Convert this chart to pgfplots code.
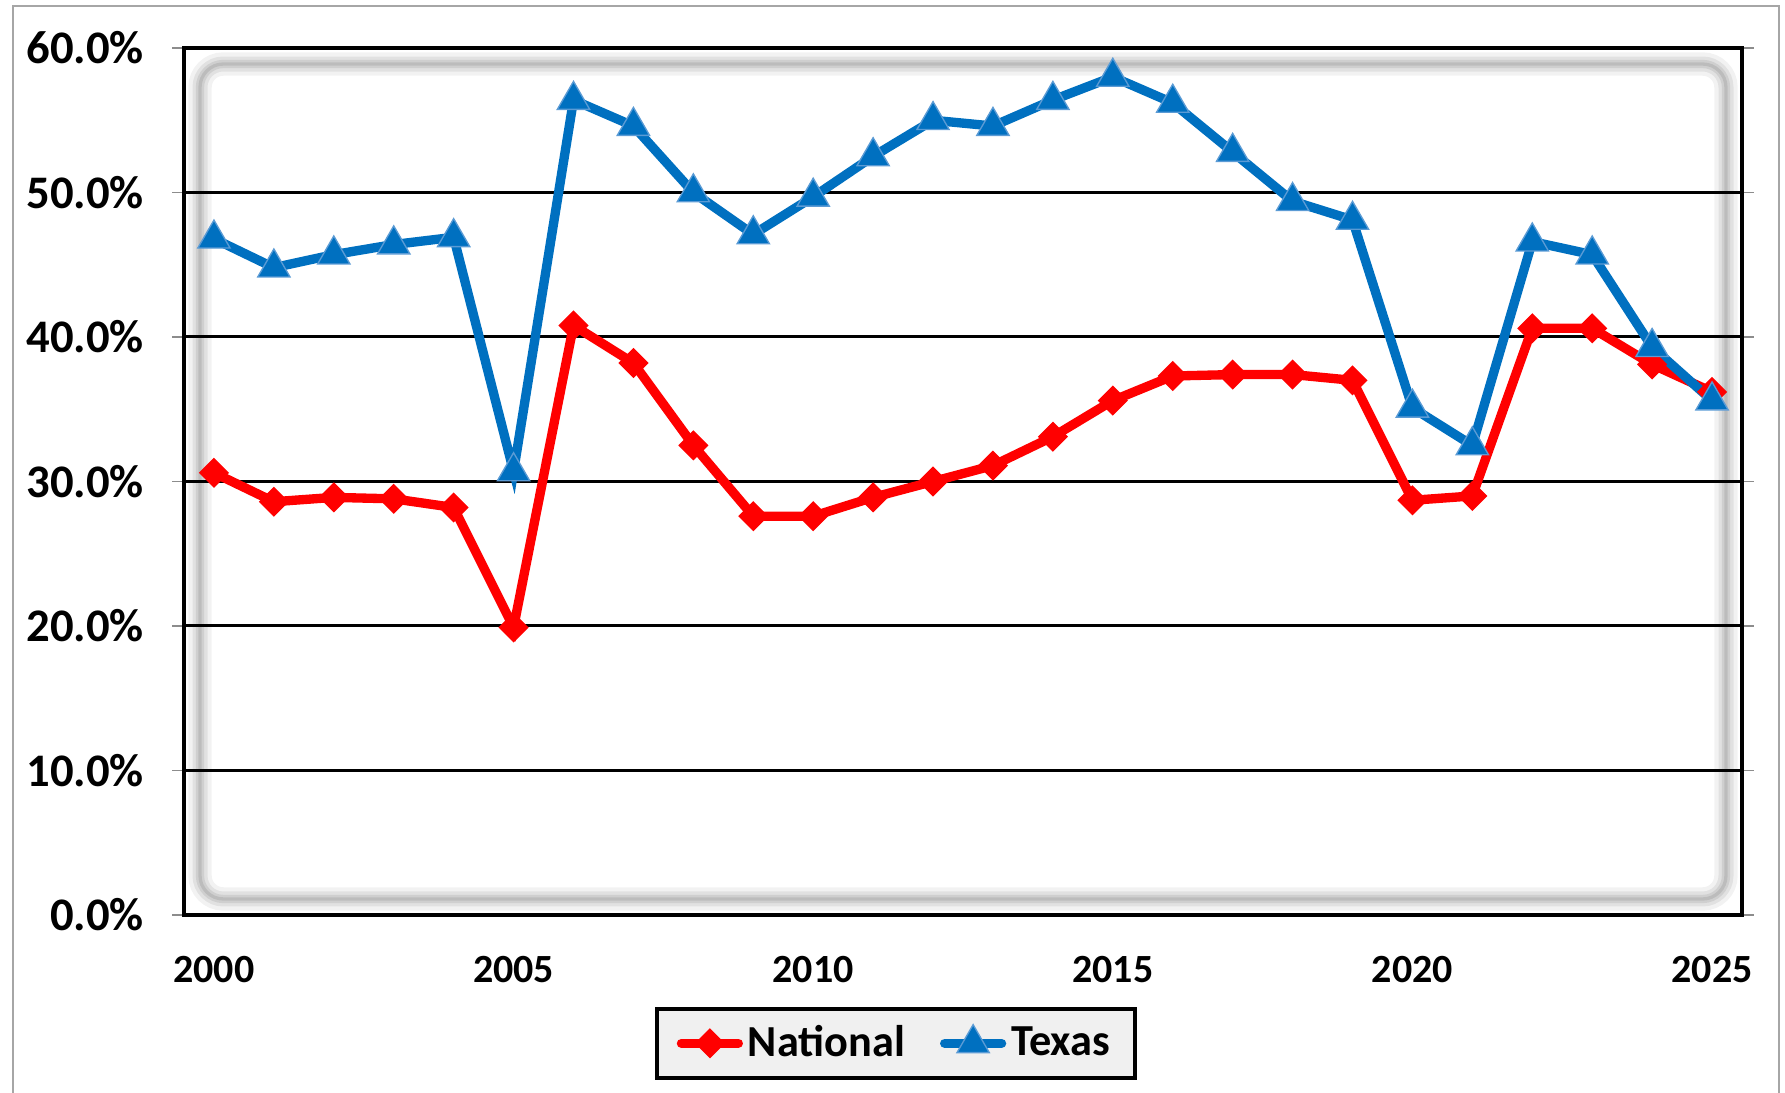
\documentclass[border=0pt]{standalone}
\usepackage{fontspec}
\setmainfont{Carlito}
\usepackage{pgfplots}
\pgfplotsset{compat=1.18}
\definecolor{tred}{HTML}{FF0000}
\definecolor{tblue}{HTML}{0070C0}
\definecolor{tedge}{HTML}{5B9BD5}
\definecolor{lgfill}{HTML}{F0F0F0}
\begin{document}
\begin{tikzpicture}
\useasboundingbox (0pt,0pt) rectangle (535.5pt,327.9pt);
\draw[black!35, line width=0.5pt] (3.8pt,-5pt) -- (3.8pt,326.1pt) -- (533.7pt,326.1pt) -- (533.7pt,-5pt);
\begin{axis}[
  at={(55.2pt,53.4pt)}, anchor=south west, scale only axis,
  width=467.4pt, height=260.1pt,
  xmin=1999.5, xmax=2025.5, ymin=0, ymax=60,
  xtick={2000,2005,...,2025},
  minor xtick={1999.5,2000.5,...,2025.5},
  xtick style={draw=none},
  minor tick style={black!45, line width=0.4pt},
  minor tick length=3.6pt,
  ytick={0,10,...,60},
  ytick style={black!45, line width=0.4pt},
  major tick length=3.5pt,
  tick align=outside,
  axis line style={black, line width=1.1pt},
  ymajorgrids, grid style={black, line width=0.9pt},
  /pgf/number format/assume math mode=true,
  xticklabel style={font=\bfseries\fontsize{12}{14}\selectfont, /pgf/number format/1000 sep={}, yshift=-5.5pt},
  yticklabel style={font=\bfseries\fontsize{14}{16}\selectfont, xshift=-5pt},
  yticklabel={\pgfmathprintnumber[fixed,fixed zerofill,precision=1]{\tick}\%},
  legend style={at={(0.457,-0.148)}, anchor=center, legend columns=2,
    fill=lgfill, draw=black, line width=1.2pt, inner ysep=3.5pt, inner xsep=6pt,
    font=\bfseries\fontsize{13.3}{15}\selectfont,
    nodes={inner sep=1.5pt},
    /tikz/every even column/.append style={column sep=9pt}},
]
\draw[black, opacity=0.05, line width=7pt, rounded corners=7pt] ([shift={(4.8pt,4.8pt)}]rel axis cs:0,0) rectangle ([shift={(-4.8pt,-4.8pt)}]rel axis cs:1,1);
\draw[black, opacity=0.07, line width=4.5pt, rounded corners=7pt] ([shift={(4.8pt,4.8pt)}]rel axis cs:0,0) rectangle ([shift={(-4.8pt,-4.8pt)}]rel axis cs:1,1);
\draw[black, opacity=0.08, line width=2.5pt, rounded corners=7pt] ([shift={(4.8pt,4.8pt)}]rel axis cs:0,0) rectangle ([shift={(-4.8pt,-4.8pt)}]rel axis cs:1,1);
\draw[black, opacity=0.09, line width=1pt, rounded corners=7pt] ([shift={(4.8pt,4.8pt)}]rel axis cs:0,0) rectangle ([shift={(-4.8pt,-4.8pt)}]rel axis cs:1,1);
\addplot[tred, line width=2.8pt, line cap=round, mark=square*, mark size=3pt,
  mark options={solid, rotate=45, fill=tred, draw=tred, line width=0.4pt}]
  coordinates {
  (2000,30.6) (2001,28.6) (2002,28.9) (2003,28.8) (2004,28.2)
  (2005,19.9) (2006,40.8) (2007,38.2) (2008,32.5) (2009,27.6)
  (2010,27.6) (2011,28.9) (2012,30.0) (2013,31.1) (2014,33.1)
  (2015,35.6) (2016,37.3) (2017,37.4) (2018,37.4) (2019,37.0)
  (2020,28.7) (2021,29.0) (2022,40.6) (2023,40.6) (2024,38.1)
  (2025,36.2)};
\addlegendentry{National}
\addplot[tblue, line width=2.8pt, line cap=round, mark=triangle*, mark size=5.6pt,
  mark options={solid, fill=tblue, draw=tedge, line width=0.4pt}]
  coordinates {
  (2000,46.8) (2001,44.8) (2002,45.7) (2003,46.4) (2004,46.9)
  (2005,30.7) (2006,56.4) (2007,54.6) (2008,50.0) (2009,47.1)
  (2010,49.7) (2011,52.5) (2012,55.0) (2013,54.6) (2014,56.4)
  (2015,58.0) (2016,56.2) (2017,52.8) (2018,49.4) (2019,48.1)
  (2020,35.1) (2021,32.5) (2022,46.6) (2023,45.7) (2024,39.3)
  (2025,35.6)};
\addlegendentry{Texas}
\end{axis}
\end{tikzpicture}
\end{document}
